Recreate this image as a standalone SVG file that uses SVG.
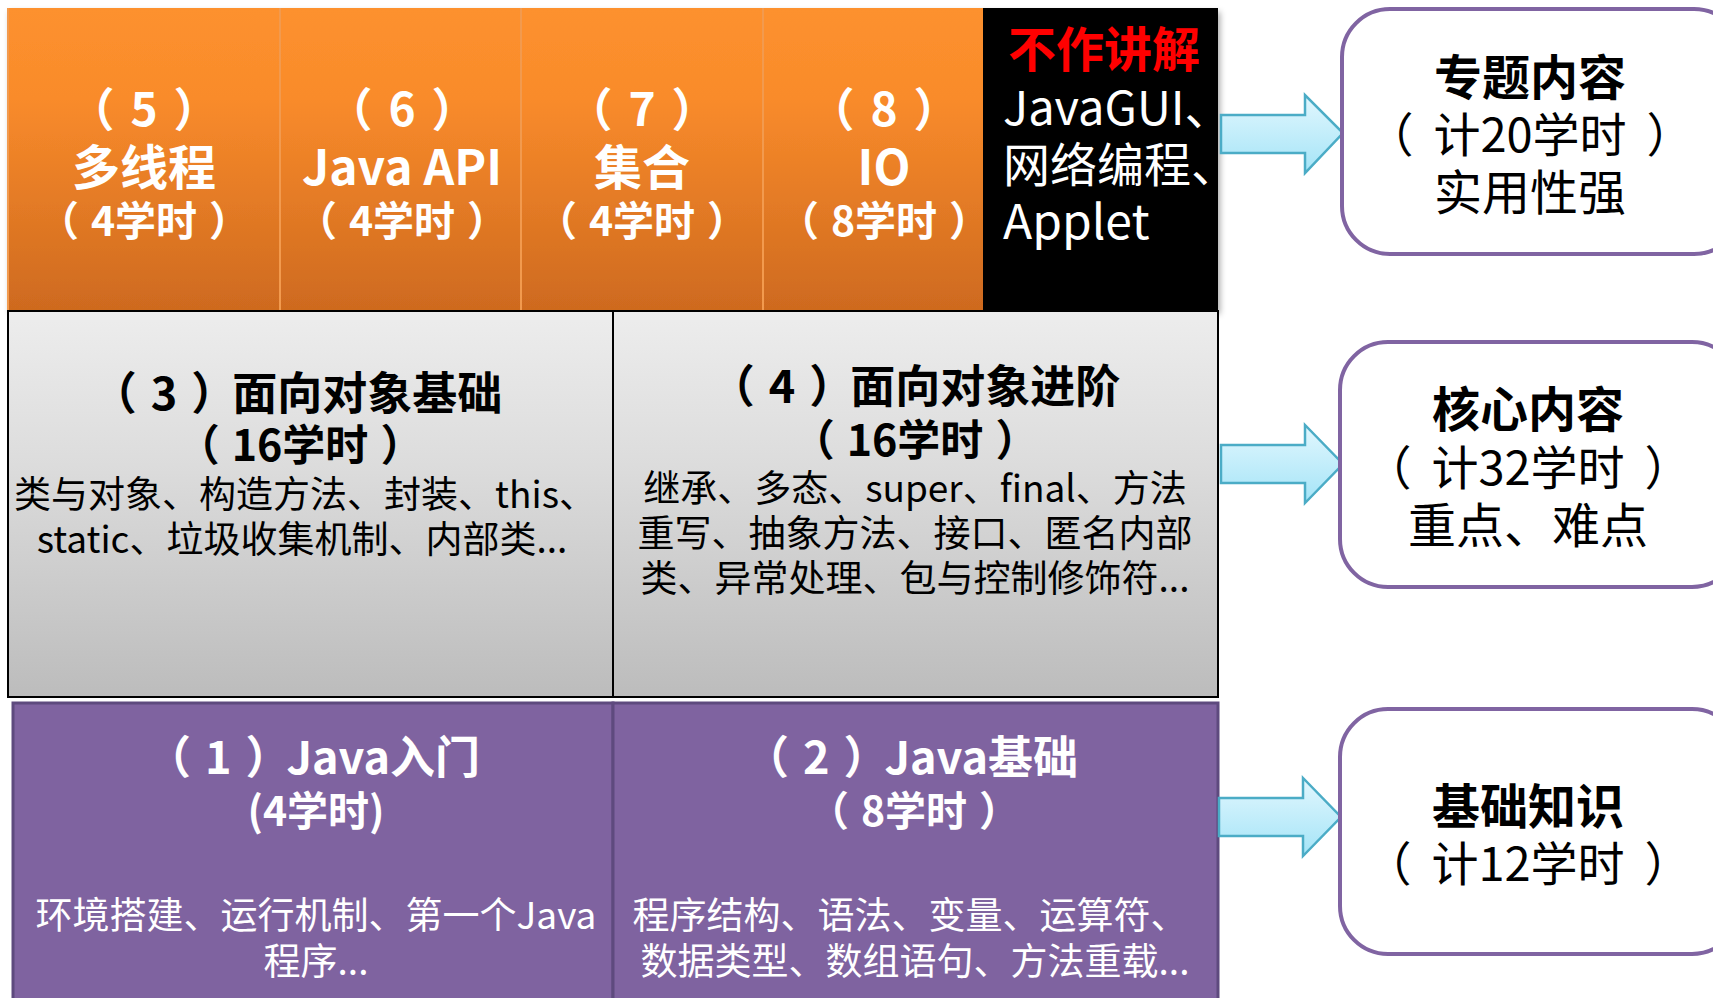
<svg xmlns="http://www.w3.org/2000/svg" width="1713" height="998" viewBox="0 0 1713 998">
<defs>
<linearGradient id="gOrange" x1="0" y1="0" x2="0" y2="1"><stop offset="0" stop-color="#FD912E"/><stop offset="0.3" stop-color="#F98B2B"/><stop offset="1" stop-color="#CE6A1F"/></linearGradient>
<linearGradient id="gGray" x1="0" y1="0" x2="0" y2="1"><stop offset="0" stop-color="#EDEDED"/><stop offset="0.4" stop-color="#DCDCDC"/><stop offset="1" stop-color="#BCBCBC"/></linearGradient>
<linearGradient id="gArrow" x1="0" y1="0" x2="0" y2="1"><stop offset="0" stop-color="#E2F7FE"/><stop offset="1" stop-color="#A4E4F7"/></linearGradient>
<filter id="sh" x="-5%" y="-5%" width="110%" height="115%"><feDropShadow dx="2" dy="4" stdDeviation="3" flood-color="#000" flood-opacity="0.35"/></filter>
</defs>
<style>
text{font-family:"Noto Sans CJK SC","Noto Sans",sans-serif;text-anchor:middle;dominant-baseline:central}
.wb{fill:#fff;font-weight:bold}
.w{fill:#fff}
.kb{fill:#000;font-weight:bold}
.k{fill:#000}
.org{stroke:#F29A4E;stroke-width:2}
.gry{fill:url(#gGray);stroke:#000;stroke-width:2}
.pur{fill:#7F63A0;stroke:#5E4A7E;stroke-width:3}
.rbox{fill:#fff;stroke:#8064A2;stroke-width:4}
.arr{fill:url(#gArrow);stroke:#4BACC6;stroke-width:2.5}
</style>
<rect width="1713" height="998" fill="#fff"/>

<g id="row-top" filter="url(#sh)">
<rect x="8" y="8" width="975" height="302" fill="url(#gOrange)"/>
<rect x="983" y="8" width="235" height="302" fill="#000"/>
</g>
<g id="n5"><line class="org" x1="8" y1="8" x2="8" y2="310"/>
<text class="wb" x="144" y="106" font-size="46"><tspan>（</tspan><tspan dx="16">5</tspan><tspan dx="16">）</tspan></text>
<text class="wb" x="144" y="164" font-size="48">多线程</text>
<text class="wb" x="144" y="218" font-size="41"><tspan>（</tspan><tspan dx="12">4学时</tspan><tspan dx="12">）</tspan></text></g>
<g id="n6"><line class="org" x1="280" y1="8" x2="280" y2="310"/>
<text class="wb" x="402" y="106" font-size="46"><tspan>（</tspan><tspan dx="16">6</tspan><tspan dx="16">）</tspan></text>
<text class="wb" x="402" y="164" font-size="48">Java API</text>
<text class="wb" x="402" y="218" font-size="41"><tspan>（</tspan><tspan dx="12">4学时</tspan><tspan dx="12">）</tspan></text></g>
<g id="n7"><line class="org" x1="521" y1="8" x2="521" y2="310"/>
<text class="wb" x="642" y="106" font-size="46"><tspan>（</tspan><tspan dx="16">7</tspan><tspan dx="16">）</tspan></text>
<text class="wb" x="642" y="164" font-size="48">集合</text>
<text class="wb" x="642" y="218" font-size="41"><tspan>（</tspan><tspan dx="12">4学时</tspan><tspan dx="12">）</tspan></text></g>
<g id="n8"><line class="org" x1="763" y1="8" x2="763" y2="310"/>
<text class="wb" x="884" y="106" font-size="46"><tspan>（</tspan><tspan dx="16">8</tspan><tspan dx="16">）</tspan></text>
<text class="wb" x="884" y="164" font-size="48">IO</text>
<text class="wb" x="884" y="218" font-size="41"><tspan>（</tspan><tspan dx="12">8学时</tspan><tspan dx="12">）</tspan></text></g>
<g id="nskip">
<text x="1104" y="46" font-size="48" font-weight="bold" fill="#F00">不作讲解</text>
<text class="w" x="1003" y="104" font-size="47" style="text-anchor:start">JavaGUI、</text>
<text class="w" x="1003" y="161" font-size="47" style="text-anchor:start">网络编程、</text>
<text class="w" x="1003" y="218" font-size="48" style="text-anchor:start">Applet</text></g>

<g id="n3"><rect class="gry" x="8" y="311" width="605" height="386"/>
<text class="kb" x="297" y="390" font-size="45"><tspan>（</tspan><tspan dx="14">3</tspan><tspan dx="14">）</tspan><tspan dx="-4">面向对象基础</tspan></text>
<text class="kb" x="300" y="442" font-size="43"><tspan>（</tspan><tspan dx="12">16学时</tspan><tspan dx="12">）</tspan></text>
<text class="k" x="305" y="492" font-size="37">类与对象、构造方法、封装、this、</text>
<text class="k" x="302" y="537" font-size="37">static、垃圾收集机制、内部类...</text></g>
<g id="n4"><rect class="gry" x="613" y="311" width="605" height="386"/>
<text class="kb" x="915" y="383" font-size="45"><tspan>（</tspan><tspan dx="14">4</tspan><tspan dx="14">）</tspan><tspan dx="-4">面向对象进阶</tspan></text>
<text class="kb" x="915" y="437" font-size="43"><tspan>（</tspan><tspan dx="12">16学时</tspan><tspan dx="12">）</tspan></text>
<text class="k" x="915" y="486" font-size="37">继承、多态、super、final、方法</text>
<text class="k" x="915" y="531" font-size="37">重写、抽象方法、接口、匿名内部</text>
<text class="k" x="915" y="576" font-size="37">类、异常处理、包与控制修饰符...</text></g>

<g id="n1"><rect class="pur" x="13" y="703" width="600" height="300"/>
<text class="wb" x="313" y="754" font-size="45"><tspan>（</tspan><tspan dx="14">1</tspan><tspan dx="14">）</tspan><tspan dx="-4">Java入门</tspan></text>
<text class="wb" x="316" y="808" font-size="41">(4学时)</text>
<text class="w" x="316" y="913" font-size="37">环境搭建、运行机制、第一个Java</text>
<text class="w" x="316" y="959" font-size="37">程序...</text></g>
<g id="n2"><rect class="pur" x="613" y="703" width="605" height="300"/>
<text class="wb" x="911" y="754" font-size="45"><tspan>（</tspan><tspan dx="14">2</tspan><tspan dx="14">）</tspan><tspan dx="-4">Java基础</tspan></text>
<text class="wb" x="914" y="808" font-size="41"><tspan>（</tspan><tspan dx="12">8学时</tspan><tspan dx="12">）</tspan></text>
<text class="w" x="910" y="913" font-size="37">程序结构、语法、变量、运算符、</text>
<text class="w" x="915" y="959" font-size="37">数据类型、数组语句、方法重载...</text></g>

<g id="connectors">
<path class="arr" d="M1221,115 H1305 V95 L1343,133 L1305,173 V153 H1221 Z"/>
<path class="arr" d="M1221,445 H1305 V425 L1343,464 L1305,503 V483 H1221 Z"/>
<path class="arr" d="M1219,798 H1303 V778 L1341,817 L1303,856 V836 H1219 Z"/>
</g>

<g id="b1"><rect class="rbox" x="1342" y="9" width="400" height="245" rx="48"/>
<text class="kb" x="1530" y="74" font-size="48">专题内容</text>
<text class="k" x="1530" y="131" font-size="47"><tspan>（</tspan><tspan dx="20">计20学时</tspan><tspan dx="20">）</tspan></text>
<text class="k" x="1530" y="189" font-size="48">实用性强</text></g>
<g id="b2"><rect class="rbox" x="1340" y="342" width="400" height="245" rx="48"/>
<text class="kb" x="1528" y="406" font-size="48">核心内容</text>
<text class="k" x="1528" y="464" font-size="47"><tspan>（</tspan><tspan dx="20">计32学时</tspan><tspan dx="20">）</tspan></text>
<text class="k" x="1528" y="522" font-size="48">重点、难点</text></g>
<g id="b3"><rect class="rbox" x="1340" y="709" width="400" height="245" rx="48"/>
<text class="kb" x="1528" y="803" font-size="48">基础知识</text>
<text class="k" x="1528" y="860" font-size="47"><tspan>（</tspan><tspan dx="20">计12学时</tspan><tspan dx="20">）</tspan></text></g>
</svg>
